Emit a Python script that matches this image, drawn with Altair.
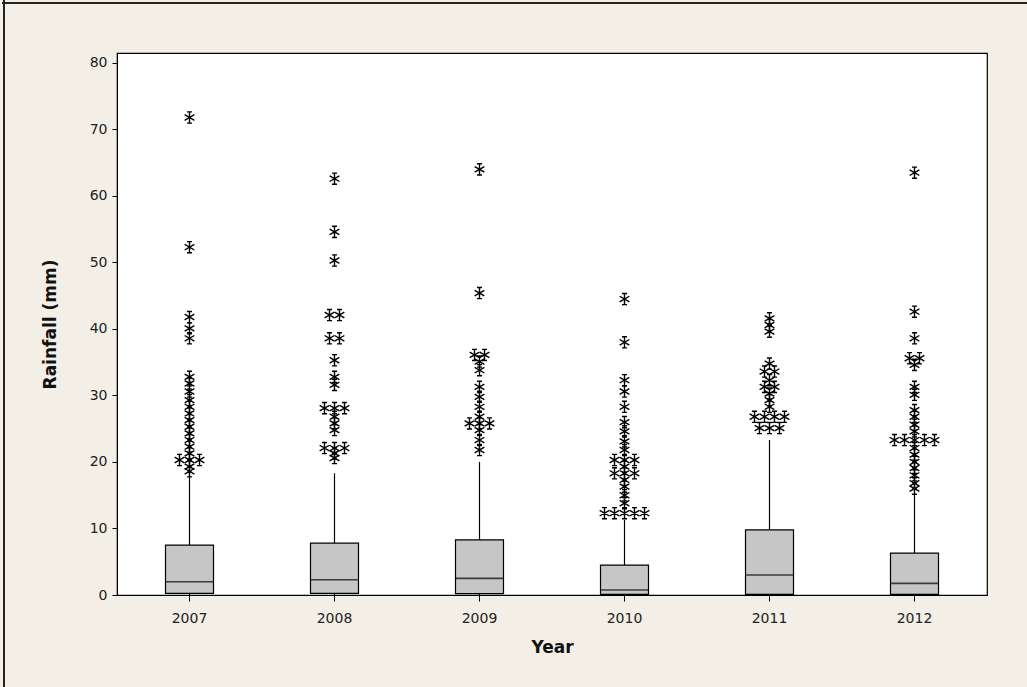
import altair as alt
import pandas as pd

# Yearly rainfall box plot summaries (mm)
years = ["2007", "2008", "2009", "2010", "2011", "2012"]
q1 = [0.25, 0.25, 0.2, 0.1, 0.1, 0.1]
median = [2.0, 2.3, 2.5, 0.75, 3.0, 1.75]
q3 = [7.5, 7.8, 8.3, 4.5, 9.8, 6.3]
whisker_hi = [18.0, 18.3, 20.0, 11.3, 23.3, 15.3]

# Outlying daily rainfall values per year (repeated values are drawn side by side)
out_2007 = [71.8, 52.3, 41.8, 40.1, 38.6, 32.8, 31.8, 30.6, 29.3, 28.3, 27.3, 26.3,
            25.3, 24.3, 23.3, 22.3, 21.3, 20.3, 20.3, 20.3, 19.3, 18.6]
out_2008 = [62.6, 54.6, 50.3, 42.1, 42.1, 38.6, 38.6, 35.3, 32.8, 31.6, 28.1, 28.1,
            28.1, 26.8, 25.8, 24.8, 22.1, 22.1, 22.1, 21.3, 20.6]
out_2009 = [64.0, 45.4, 36.1, 36.1, 35.1, 33.8, 31.3, 29.8, 28.3, 26.8, 25.8, 25.8,
            25.8, 24.8, 23.3, 21.8]
out_2010 = [44.5, 38.0, 32.3, 30.6, 28.3, 26.0, 24.6, 23.1, 21.8, 20.3, 20.3, 20.3,
            19.3, 18.3, 18.3, 18.3, 17.3, 16.3, 15.0, 13.8, 12.3, 12.3, 12.3, 12.3, 12.3]
out_2011 = [41.6, 40.6, 39.6, 34.8, 33.6, 33.6, 32.3, 31.3, 31.3, 30.3, 29.3, 28.3,
            26.8, 26.8, 26.8, 26.8, 25.1, 25.1, 25.1]
out_2012 = [63.5, 42.6, 38.6, 35.6, 35.6, 34.6, 31.3, 30.1, 27.8, 26.8, 25.6, 24.6,
            23.3, 23.3, 23.3, 23.3, 23.3, 22.1, 21.1, 20.0, 19.1, 18.0, 16.8, 16.0]
outliers = [out_2007, out_2008, out_2009, out_2010, out_2011, out_2012]

summary = pd.DataFrame({
    "year": years, "q1": q1, "median": median, "q3": q3, "whisker_hi": whisker_hi,
    "whisker_lo": [0.0] * len(years),
})

rows = []
for yr, vals in zip(years, outliers):
    counts = pd.Series(vals).value_counts()
    seen = {}
    for v in vals:
        n = counts[v]
        i = seen.get(v, 0)
        seen[v] = i + 1
        rows.append({"year": yr, "rain": v, "slot": i - (n - 1) / 2})
pts = pd.DataFrame(rows)

W, H = 870, 542
step = W / len(years)
slot_px = 10

x_enc = alt.X("year:N", title="Year",
              scale=alt.Scale(domain=years, paddingInner=0, paddingOuter=0),
              axis=alt.Axis(labelAngle=0, titlePadding=14, labelPadding=10))
y_scale = alt.Scale(domain=[0, 81.5], nice=False, zero=True)
y_axis = alt.Axis(values=list(range(0, 81, 10)), titlePadding=30, labelPadding=5,
                  tickSize=5)
y_title = "Rainfall (mm)"

asterisk = ("M0,-1V1M-0.87,-0.5L0.87,0.5M-0.87,0.5L0.87,-0.5"
            "M-0.45,-1H0.45M-0.45,1H0.45")

base = alt.Chart(summary)

lower = base.mark_rule(color="black", strokeWidth=1).encode(
    x=x_enc, y=alt.Y("whisker_lo:Q", scale=y_scale, axis=y_axis, title=y_title),
    y2="q1:Q")
upper = base.mark_rule(color="black", strokeWidth=1.2).encode(
    x=x_enc, y=alt.Y("q3:Q", scale=y_scale, axis=y_axis, title=y_title),
    y2="whisker_hi:Q")
boxes = base.mark_bar(size=48, fill="#c6c6c6", stroke="black", strokeWidth=1.2).encode(
    x=x_enc, y=alt.Y("q1:Q", scale=y_scale, axis=y_axis, title=y_title),
    y2="q3:Q")
meds = base.mark_tick(size=48, thickness=1.6, color="black").encode(
    x=x_enc, y=alt.Y("median:Q", scale=y_scale, axis=y_axis, title=y_title))

half = step / (2 * slot_px)
stars = alt.Chart(pts).mark_point(
    shape=asterisk, filled=False, stroke="black", strokeWidth=1.4, size=125, opacity=1
).encode(
    x=x_enc,
    xOffset=alt.XOffset("slot:Q", scale=alt.Scale(domain=[-half, half], range=[0, step])),
    y=alt.Y("rain:Q", scale=y_scale, axis=y_axis, title=y_title),
)

# window frame lines along top and left edges
frame_top = alt.Chart(summary).mark_rule(color="#222", strokeWidth=2).encode(
    x=alt.value(-115), x2=alt.value(W + 40), y=alt.value(-50))
frame_left = alt.Chart(summary).mark_rule(color="#222", strokeWidth=2).encode(
    x=alt.value(-113), y=alt.value(-53), y2=alt.value(H + 92))

chart = alt.layer(frame_top, frame_left, lower, upper, boxes, meds, stars).properties(
    width=W, height=H,
    autosize=alt.AutoSizeParams(type="none"),
    padding={"left": 117, "top": 53, "right": 40, "bottom": 92},
    background="#f3efe6",
).configure_view(
    fill="white", stroke="black", strokeWidth=1.2
).configure_axis(
    grid=False, domainColor="black", tickColor="black", tickSize=6,
    labelFont="DejaVu Sans", labelFontSize=14, labelColor="#222",
    titleFont="DejaVu Sans", titleFontSize=17, titleFontWeight="bold", titleColor="#111",
)

chart.save("out.html", embed_options={"renderer": "svg", "actions": False})
